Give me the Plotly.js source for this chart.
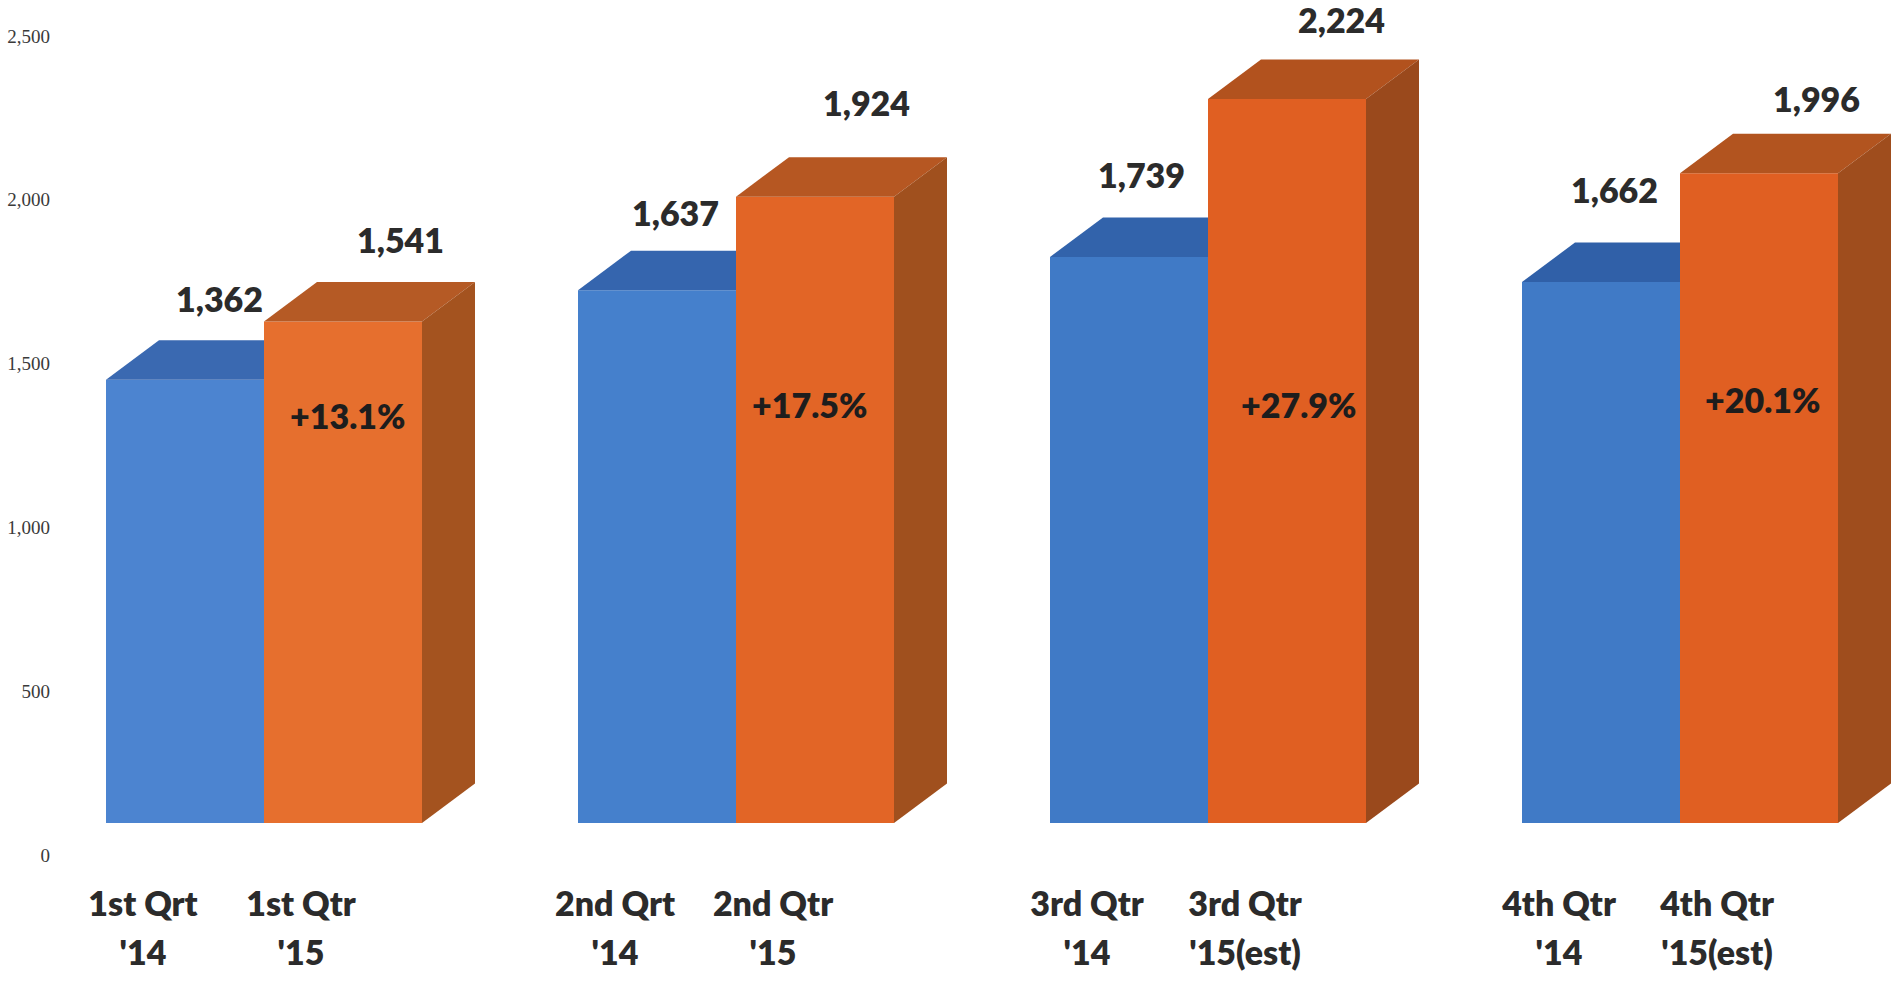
<!DOCTYPE html>
<html><head><meta charset="utf-8">
<script src="https://cdn.plot.ly/plotly-3.0.1.min.js"></script>
<style>html,body{margin:0;padding:0;background:#fff;overflow:hidden}#c{width:1896px;height:981px}</style>
</head><body><div id="c"></div>
<script>
// ---- data ----
const quarters = [0, 1, 2, 3];
const values2014 = [1362, 1637, 1739, 1662];
const values2015 = [1541, 1924, 2224, 1996];
const labels2014 = ["1st Qrt", "2nd Qrt", "3rd Qtr", "4th Qtr"];
const labels2015 = ["1st Qtr", "2nd Qtr", "3rd Qtr", "4th Qtr"];
const years2014 = ["'14", "'14", "'14", "'14"];
const years2015 = ["'15", "'15", "'15(est)", "'15(est)"];
const changes = ["+13.1%", "+17.5%", "+27.9%", "+20.1%"];
const yTicks = [0, 500, 1000, 1500, 2000, 2500];

// ---- placement (pixels / axis units) ----
const W = 1896, H = 981, ML = 54;
const groupPx = 472, originPx = 264;
const barW = 158 / groupPx;
const depthX = 53 / groupPx;
const axisPxPerUnit = (855 - 36) / 2500;
const barPxPerUnit = 0.3255, barFloorPx = 823;
const depthY = 39.5 / barPxPerUnit;
const xRange = [(ML - originPx) / groupPx, (W - originPx) / groupPx];
const yRange = [(855 - H) / axisPxPerUnit, 855 / axisPxPerUnit];
const y2Range = [(barFloorPx - H) / barPxPerUnit, barFloorPx / barPxPerUnit];
const shift14 = [[34, 81], [18, 78], [12, 82], [13, 93]];
const shift15 = [[57, 82], [51, 94], [54, 80], [57, 75]];
const changeShift = [4, -6, 11, 3];
const changeLevel = [1343, 1374, 1374, 1389];
const row1 = -161, row2 = -311, tickLabelShift = -42 / groupPx;

// ---- colours ----
const blueFront = ['#4c84d0', '#4580cc', '#407ac6', '#407ac6'];
const blueTop = ['#3a69b1', '#3565ae', '#3263ab', '#3060a8'];
const orangeFront = ['#e66f2e', '#e26526', '#e05f22', '#e05f22'];
const orangeTop = ['#b55a25', '#b65722', '#b2521e', '#b2541f'];
const orangeSide = ['#a4531f', '#a0501e', '#9a491c', '#9f4d1d'];

const bold = {family: 'Lato, "Open Sans", sans-serif', size: 34, color: '#2b2b2b', weight: 800};
const traces = [];
function face(xs, ys, color) {
  traces.push({type: 'scatter', mode: 'lines', x: xs, y: ys, yaxis: 'y2', fill: 'toself',
    fillcolor: color, line: {width: 0}, hoverinfo: 'skip', showlegend: false});
}
quarters.forEach((q, i) => {
  // blue top face, hidden part behind the orange bar is left out
  const l14 = q - barW, r14 = q, t14 = values2014[i];
  face([l14, l14 + depthX, r14, r14, l14], [t14, t14 + depthY, t14 + depthY, t14, t14], blueTop[i]);
  const l15 = q, r15 = q + barW, t15 = values2015[i];
  face([l15, l15 + depthX, r15 + depthX, r15, l15], [t15, t15 + depthY, t15 + depthY, t15, t15], orangeTop[i]);
  face([r15, r15 + depthX, r15 + depthX, r15, r15], [t15, t15 + depthY, depthY, 0, t15], orangeSide[i]);
});
traces.push({type: 'bar', x: quarters.map(q => q - barW / 2), y: values2014, width: barW, yaxis: 'y2',
  marker: {color: blueFront, line: {width: 0}}, hoverinfo: 'skip', showlegend: false});
traces.push({type: 'bar', x: quarters.map(q => q + barW / 2), y: values2015, width: barW, yaxis: 'y2',
  marker: {color: orangeFront, line: {width: 0}}, hoverinfo: 'skip', showlegend: false});

const xs14 = quarters.map(q => q - barW / 2 + tickLabelShift);
const xs15 = quarters.map(q => q + barW / 2 + tickLabelShift);
function textRow(xs, level, text) {
  traces.push({type: 'scatter', mode: 'text', x: xs, y: xs.map(() => level), text: text,
    textposition: 'middle center', textfont: bold, cliponaxis: false, hoverinfo: 'skip', showlegend: false});
}
textRow(xs14, row1, labels2014);
textRow(xs15, row1, labels2015);
textRow(xs14, row2, years2014);
textRow(xs15, row2, years2015);

const fmt = v => v.toLocaleString('en-US');
const annotations = [];
quarters.forEach((q, i) => {
  annotations.push({x: q - barW / 2, y: values2014[i], xref: 'x', yref: 'y2', text: fmt(values2014[i]),
    showarrow: false, xshift: shift14[i][0], yshift: shift14[i][1], font: bold, xanchor: 'center', yanchor: 'middle'});
  annotations.push({x: q + barW / 2, y: values2015[i], xref: 'x', yref: 'y2', text: fmt(values2015[i]),
    showarrow: false, xshift: shift15[i][0], yshift: shift15[i][1], font: bold, xanchor: 'center', yanchor: 'middle'});
  annotations.push({x: q + barW / 2, y: changeLevel[i], xref: 'x', yref: 'y', text: changes[i],
    showarrow: false, xshift: changeShift[i], font: {...bold, color: '#1d1d1d'}, xanchor: 'center', yanchor: 'middle'});
});

Plotly.newPlot('c', traces, {
  width: W, height: H, margin: {l: ML, r: 0, t: 0, b: 0, pad: 0},
  paper_bgcolor: '#fff', plot_bgcolor: '#fff', showlegend: false, barmode: 'overlay',
  xaxis: {range: xRange, visible: false, fixedrange: true},
  yaxis: {range: yRange, tickmode: 'array', tickvals: yTicks, ticktext: yTicks.map(fmt), showgrid: false,
    zeroline: false, showline: false, ticks: '', ticklabelstandoff: 3,
    tickfont: {family: '"Liberation Serif", serif', size: 19, color: '#3a3a3a'}, fixedrange: true},
  yaxis2: {range: y2Range, overlaying: 'y', visible: false, fixedrange: true},
  annotations: annotations
}, {displayModeBar: false, staticPlot: true});
</script></body></html>
